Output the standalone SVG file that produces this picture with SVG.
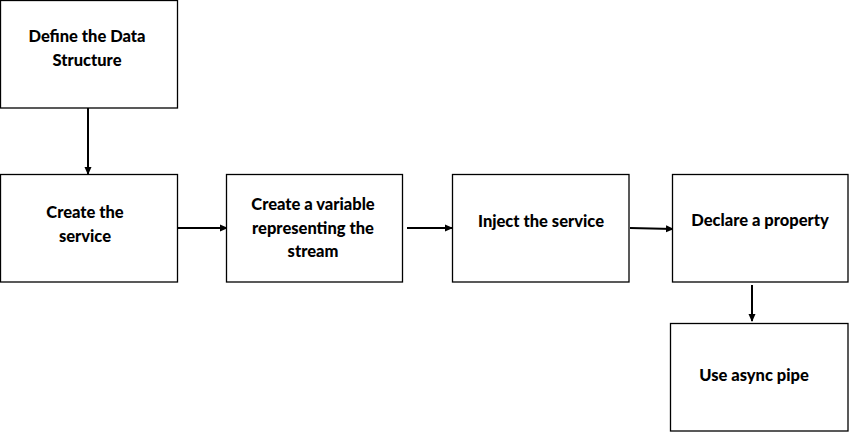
<svg xmlns="http://www.w3.org/2000/svg" width="849" height="432" viewBox="0 0 849 432">
<style>
.box{fill:#fff;stroke:#000;stroke-width:1.3}
.t{font-family:Lato,"Liberation Sans",sans-serif;font-weight:900;font-size:16.5px;fill:#000;text-anchor:middle}
.c{stroke:#000;stroke-width:2;fill:none}
</style>
<defs>
<marker id="ah" markerWidth="8" markerHeight="8" refX="7" refY="4" orient="auto" markerUnits="userSpaceOnUse">
<path d="M0,0.5 L8,4 L0,7.5 Z" fill="#000"/>
</marker>
</defs>
<rect width="849" height="432" fill="#fff"/>
<g id="connectors">
<line class="c" x1="88" y1="108" x2="88" y2="174" marker-end="url(#ah)"/>
<line class="c" x1="178" y1="228" x2="227" y2="228" marker-end="url(#ah)"/>
<line class="c" x1="407" y1="228" x2="452" y2="228" marker-end="url(#ah)"/>
<line class="c" x1="630" y1="228" x2="673" y2="229" marker-end="url(#ah)"/>
<line class="c" x1="752" y1="285" x2="752" y2="321" marker-end="url(#ah)"/>
</g>
<g id="n1"><rect class="box" x="0.5" y="0.5" width="177" height="107.5"/>
<text class="t" x="87" y="42">Define the Data</text><text class="t" x="87" y="66">Structure</text></g>
<g id="n2"><rect class="box" x="0.5" y="174.5" width="177" height="107.5"/>
<text class="t" x="85" y="218">Create the</text><text class="t" x="85" y="242">service</text></g>
<g id="n3"><rect class="box" x="226.5" y="174.5" width="176" height="107.5"/>
<text class="t" x="313" y="210">Create a variable</text><text class="t" x="313" y="234">representing the</text><text class="t" x="313" y="257">stream</text></g>
<g id="n4"><rect class="box" x="452.5" y="174.5" width="176.5" height="107.5"/>
<text class="t" x="541" y="227">Inject the service</text></g>
<g id="n5"><rect class="box" x="672.5" y="174.5" width="175.5" height="107.5"/>
<text class="t" x="760" y="226">Declare a property</text></g>
<g id="n6"><rect class="box" x="670.5" y="323.5" width="177.5" height="107.5"/>
<text class="t" x="754" y="381">Use async pipe</text></g>
</svg>
